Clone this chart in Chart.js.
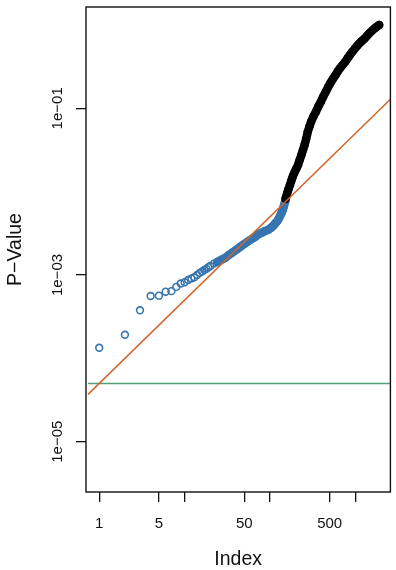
<!DOCTYPE html>
<html>
<head>
<meta charset="utf-8">
<script src="https://cdn.jsdelivr.net/npm/chart.js@4/dist/chart.umd.min.js"></script>
<style>
  html, body { margin: 0; padding: 0; background: #fff; }
  #wrap { width: 396px; height: 570px; }
</style>
</head>
<body>
<div id="wrap"><canvas id="pvalChart" width="396" height="570"></canvas></div>
<script>
// sorted p-values, significant ones (blue)
const blueIndex = [1, 2, 3, 4, 5, 6, 7, 8, 9, 10, 11, 12, 13, 14, 15, 16, 17, 18, 19, 20,
    22, 24, 26, 28, 30, 33, 36, 39, 42, 45, 50, 54, 58, 62, 66, 70, 75, 80, 85, 90,
    97, 102, 107, 112, 116, 121, 126, 131, 136, 140, 144, 148, 151];
const bluePval = [1.34e-4, 1.92e-4, 3.77e-4, 5.60e-4, 5.65e-4, 6.30e-4, 6.40e-4, 7.20e-4, 7.90e-4, 8.20e-4,
    8.70e-4, 9.10e-4, 9.40e-4, 1.00e-3, 1.06e-3, 1.10e-3, 1.15e-3, 1.19e-3, 1.24e-3, 1.28e-3,
    1.37e-3, 1.43e-3, 1.49e-3, 1.55e-3, 1.61e-3, 1.74e-3, 1.85e-3, 1.96e-3, 2.07e-3, 2.18e-3,
    2.36e-3, 2.49e-3, 2.62e-3, 2.73e-3, 2.84e-3, 2.97e-3, 3.12e-3, 3.22e-3, 3.33e-3, 3.41e-3,
    3.52e-3, 3.66e-3, 3.82e-3, 4.00e-3, 4.21e-3, 4.40e-3, 4.70e-3, 5.10e-3, 5.50e-3, 5.90e-3,
    6.50e-3, 7.20e-3, 7.60e-3];

// the rest (black)
const blackIndex = [152, 155, 159, 165, 171, 177, 182, 188, 195, 204, 213, 222, 233, 243, 254, 265,
    277, 290, 303, 323, 345, 368, 394, 420, 450, 479, 509, 545, 586, 623, 663, 710, 762, 810,
    863, 925, 992, 1055, 1122, 1205, 1291, 1375, 1462, 1570, 1681, 1790, 1900];
const blackPval = [8.2e-3, 8.7e-3, 9.6e-3, 1.08e-2, 1.20e-2, 1.33e-2, 1.46e-2, 1.59e-2, 1.73e-2, 1.90e-2,
    2.09e-2, 2.38e-2, 2.75e-2, 3.15e-2, 3.63e-2, 4.30e-2, 5.24e-2, 6.05e-2, 6.91e-2, 8.00e-2,
    9.10e-2, 0.105, 0.120, 0.138, 0.158, 0.180, 0.201, 0.225, 0.251, 0.278, 0.304, 0.332, 0.362,
    0.398, 0.436, 0.480, 0.525, 0.565, 0.607, 0.650, 0.692, 0.745, 0.800, 0.855, 0.912, 0.958, 1.0];

// thresholds
const bonferroniLevel = 5e-5;
const bhSlope = 5e-5;

// axes
const xMin = 0.739, xMax = 2570;
const yMin = 2.49e-6, yMax = 1.643;
const xTickValues = [1, 5, 10, 50, 100, 500, 1000];
const xTickLabels = ['1', '5', '', '50', '', '500', ''];
const yTickValues = [1e-5, 1e-3, 1e-1];
const yTickLabels = ['1e\u221205', '1e\u221203', '1e\u221201'];

const BLUE = '#3675b0';
const BLACK = '#000000';
const ORANGE = '#d2642a';
const GREEN = '#4f9f78';
const FONT = "'Liberation Sans', Arial, Helvetica, sans-serif";

const toPoints = (xs, ys) => xs.map((x, i) => ({ x: x, y: ys[i] }));
const bandStart = blueIndex.findIndex(v => v >= 24);

// cadre autour de la zone du graphe
const framePlugin = {
    id: 'frame',
    afterDatasetsDraw(chart) {
        const { ctx, chartArea: a } = chart;
        ctx.save();
        ctx.strokeStyle = '#111';
        ctx.lineWidth = 1.4;
        ctx.strokeRect(a.left, a.top, a.right - a.left, a.bottom - a.top);
        ctx.restore();
    }
};

new Chart(document.getElementById('pvalChart'), {
    type: 'scatter',
    data: {
        datasets: [
            {
                data: [{ x: xMin, y: bhSlope * xMin }, { x: xMax, y: bhSlope * xMax }],
                showLine: true, borderColor: ORANGE, borderWidth: 1.5, pointRadius: 0, order: 0
            },
            {
                data: [{ x: xMin, y: bonferroniLevel }, { x: xMax, y: bonferroniLevel }],
                showLine: true, borderColor: GREEN, borderWidth: 1.6, pointRadius: 0, order: 0
            },
            {
                data: toPoints(blueIndex, bluePval),
                pointRadius: 3.4, pointBorderWidth: 1.6, pointBorderColor: BLUE,
                pointBackgroundColor: 'rgba(0,0,0,0)', order: 2
            },
            {
                data: toPoints(blueIndex.slice(bandStart), bluePval.slice(bandStart)),
                showLine: true, borderColor: BLUE, borderWidth: 8.5, borderCapStyle: 'round',
                borderJoinStyle: 'round', pointRadius: 0, order: 2
            },
            {
                data: toPoints(blackIndex, blackPval),
                showLine: true, borderColor: BLACK, borderWidth: 8.5, borderCapStyle: 'round',
                borderJoinStyle: 'round',
                pointRadius: 3.4, pointBorderWidth: 1.6, pointBorderColor: BLACK,
                pointBackgroundColor: 'rgba(0,0,0,0)', order: 1
            }
        ]
    },
    options: {
        responsive: false,
        devicePixelRatio: 1,
        animation: false,
        layout: { padding: { top: 7, right: 1, left: 0, bottom: 0 } },
        plugins: { legend: { display: false }, tooltip: { enabled: false } },
        scales: {
            x: {
                type: 'logarithmic',
                min: xMin, max: xMax,
                afterBuildTicks: s => { s.ticks = xTickValues.map(v => ({ value: v })); },
                afterFit: s => { s.height = 78; },
                grid: { drawOnChartArea: false, drawTicks: true, tickLength: 10, color: '#111', lineWidth: 1.3 },
                border: { display: false },
                ticks: {
                    autoSkip: false, maxRotation: 0, padding: 12.5,
                    color: '#111', font: { family: FONT, size: 15 },
                    callback: (v, i) => xTickLabels[i]
                },
                title: {
                    display: true, text: 'Index', color: '#111',
                    font: { family: FONT, size: 19.5 }, padding: { top: 0, bottom: -1.5 }
                }
            },
            y: {
                type: 'logarithmic',
                min: yMin, max: yMax,
                afterBuildTicks: s => { s.ticks = yTickValues.map(v => ({ value: v })); },
                afterFit: s => { s.width = 86; },
                grid: { drawOnChartArea: false, drawTicks: true, tickLength: 10, color: '#111', lineWidth: 1.3 },
                border: { display: false },
                ticks: {
                    autoSkip: false, minRotation: 90, maxRotation: 90, crossAlign: 'center', padding: -2.5,
                    color: '#111', font: { family: FONT, size: 15 },
                    callback: (v, i) => yTickLabels[i]
                },
                title: {
                    display: true, text: 'P\u2212Value', color: '#111',
                    font: { family: FONT, size: 19.5 }, padding: { top: 4.3, bottom: 0 }
                }
            }
        }
    },
    plugins: [framePlugin]
});
</script>
</body>
</html>
